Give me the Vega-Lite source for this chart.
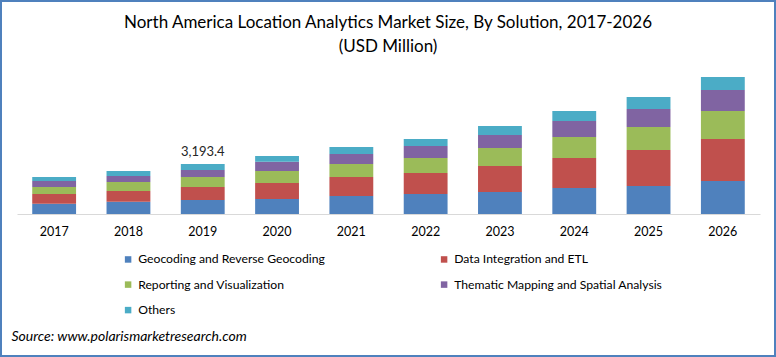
{
  "$schema": "https://vega.github.io/schema/vega-lite/v6.json",
  "width": 776,
  "height": 357,
  "autosize": "none",
  "padding": 0,
  "background": "white",
  "config": {
    "view": {"stroke": "#4f81bd", "strokeWidth": 4},
    "font": "Lato"
  },
  "title": {
    "text": ["North America Location Analytics Market Size, By Solution, 2017-2026", "(USD Million)"],
    "anchor": "middle",
    "orient": "top",
    "offset": -56,
    "fontSize": 17,
    "fontWeight": "normal",
    "color": "#000000",
    "lineHeight": 24,
    "font": "Lato"
  },
  "data": {
    "values": [
      {"year": "2017", "segment": "Geocoding and Reverse Geocoding", "value": 658},
      {"year": "2017", "segment": "Data Integration and ETL", "value": 620},
      {"year": "2017", "segment": "Reporting and Visualization", "value": 447},
      {"year": "2017", "segment": "Thematic Mapping and Spatial Analysis", "value": 383},
      {"year": "2017", "segment": "Others", "value": 255},
      {"year": "2018", "segment": "Geocoding and Reverse Geocoding", "value": 786},
      {"year": "2018", "segment": "Data Integration and ETL", "value": 683},
      {"year": "2018", "segment": "Reporting and Visualization", "value": 575},
      {"year": "2018", "segment": "Thematic Mapping and Spatial Analysis", "value": 383},
      {"year": "2018", "segment": "Others", "value": 319},
      {"year": "2019", "segment": "Geocoding and Reverse Geocoding", "value": 894.2},
      {"year": "2019", "segment": "Data Integration and ETL", "value": 830.1},
      {"year": "2019", "segment": "Reporting and Visualization", "value": 638.7},
      {"year": "2019", "segment": "Thematic Mapping and Spatial Analysis", "value": 447.1},
      {"year": "2019", "segment": "Others", "value": 383.3},
      {"year": "2020", "segment": "Geocoding and Reverse Geocoding", "value": 958},
      {"year": "2020", "segment": "Data Integration and ETL", "value": 1022},
      {"year": "2020", "segment": "Reporting and Visualization", "value": 766},
      {"year": "2020", "segment": "Thematic Mapping and Spatial Analysis", "value": 594},
      {"year": "2020", "segment": "Others", "value": 364},
      {"year": "2021", "segment": "Geocoding and Reverse Geocoding", "value": 1150},
      {"year": "2021", "segment": "Data Integration and ETL", "value": 1214},
      {"year": "2021", "segment": "Reporting and Visualization", "value": 830},
      {"year": "2021", "segment": "Thematic Mapping and Spatial Analysis", "value": 639},
      {"year": "2021", "segment": "Others", "value": 447},
      {"year": "2022", "segment": "Geocoding and Reverse Geocoding", "value": 1277},
      {"year": "2022", "segment": "Data Integration and ETL", "value": 1341},
      {"year": "2022", "segment": "Reporting and Visualization", "value": 958},
      {"year": "2022", "segment": "Thematic Mapping and Spatial Analysis", "value": 766},
      {"year": "2022", "segment": "Others", "value": 447},
      {"year": "2023", "segment": "Geocoding and Reverse Geocoding", "value": 1405},
      {"year": "2023", "segment": "Data Integration and ETL", "value": 1661},
      {"year": "2023", "segment": "Reporting and Visualization", "value": 1150},
      {"year": "2023", "segment": "Thematic Mapping and Spatial Analysis", "value": 830},
      {"year": "2023", "segment": "Others", "value": 575},
      {"year": "2024", "segment": "Geocoding and Reverse Geocoding", "value": 1661},
      {"year": "2024", "segment": "Data Integration and ETL", "value": 1916},
      {"year": "2024", "segment": "Reporting and Visualization", "value": 1341},
      {"year": "2024", "segment": "Thematic Mapping and Spatial Analysis", "value": 1022},
      {"year": "2024", "segment": "Others", "value": 639},
      {"year": "2025", "segment": "Geocoding and Reverse Geocoding", "value": 1788},
      {"year": "2025", "segment": "Data Integration and ETL", "value": 2299},
      {"year": "2025", "segment": "Reporting and Visualization", "value": 1469},
      {"year": "2025", "segment": "Thematic Mapping and Spatial Analysis", "value": 1150},
      {"year": "2025", "segment": "Others", "value": 766},
      {"year": "2026", "segment": "Geocoding and Reverse Geocoding", "value": 2108},
      {"year": "2026", "segment": "Data Integration and ETL", "value": 2683},
      {"year": "2026", "segment": "Reporting and Visualization", "value": 1788},
      {"year": "2026", "segment": "Thematic Mapping and Spatial Analysis", "value": 1341},
      {"year": "2026", "segment": "Others", "value": 830}
    ]
  },
  "encoding": {
    "x": {
      "field": "year",
      "type": "nominal",
      "scale": {"range": [17, 760], "paddingInner": 0.41, "paddingOuter": 0.205},
      "axis": {
        "orient": "bottom",
        "offset": -143,
        "labelAngle": 0,
        "labelFontSize": 12.5,
        "labelColor": "#000000",
        "labelPadding": 11,
        "ticks": false,
        "domainColor": "#d9d9d9",
        "domainWidth": 1,
        "grid": false,
        "title": "Source: www.polarismarketresearch.com",
        "titleX": 11,
        "titleY": 122,
        "titleAlign": "left",
        "titleAnchor": "start",
        "titleBaseline": "middle",
        "titleFontStyle": "italic",
        "titleFontWeight": "normal",
        "titleFontSize": 14,
        "titleColor": "#000000"
      }
    }
  },
  "layer": [
    {
      "transform": [
        {"calculate": "indexof(['Geocoding and Reverse Geocoding', 'Data Integration and ETL', 'Reporting and Visualization', 'Thematic Mapping and Spatial Analysis', 'Others'], datum.segment)", "as": "stackOrder"}
      ],
      "mark": {"type": "bar"},
      "encoding": {
        "y": {
          "field": "value",
          "type": "quantitative",
          "stack": "zero",
          "scale": {"domain": [0, 9000], "range": [214, 73]},
          "axis": null
        },
        "order": {"field": "stackOrder", "type": "quantitative", "sort": "ascending"},
        "color": {
          "field": "segment",
          "type": "nominal",
          "sort": ["Geocoding and Reverse Geocoding", "Data Integration and ETL", "Reporting and Visualization", "Thematic Mapping and Spatial Analysis", "Others"],
          "scale": {
            "domain": ["Geocoding and Reverse Geocoding", "Data Integration and ETL", "Reporting and Visualization", "Thematic Mapping and Spatial Analysis", "Others"],
            "range": ["#4f81bd", "#c0504d", "#9bbb59", "#8064a2", "#4bacc6"]
          },
          "legend": {
            "orient": "none",
            "legendX": 122,
            "legendY": 253,
            "columns": 2,
            "direction": "horizontal",
            "title": null,
            "symbolType": "square",
            "symbolSize": 42,
            "symbolStrokeWidth": 0,
            "labelFontSize": 12.2,
            "labelColor": "#000000",
            "labelOffset": 4,
            "labelLimit": 0,
            "rowPadding": 12.5,
            "columnPadding": 113,
            "gridAlign": "each"
          }
        }
      }
    },
    {
      "transform": [
        {"filter": "datum.year == '2019'"},
        {"aggregate": [{"op": "sum", "field": "value", "as": "total"}], "groupby": ["year"]}
      ],
      "mark": {"type": "text", "baseline": "bottom", "dy": -5, "fontSize": 13, "color": "#262626"},
      "encoding": {
        "y": {"field": "total", "type": "quantitative"},
        "text": {"field": "total", "type": "quantitative", "format": ",.1f"}
      }
    }
  ]
}
